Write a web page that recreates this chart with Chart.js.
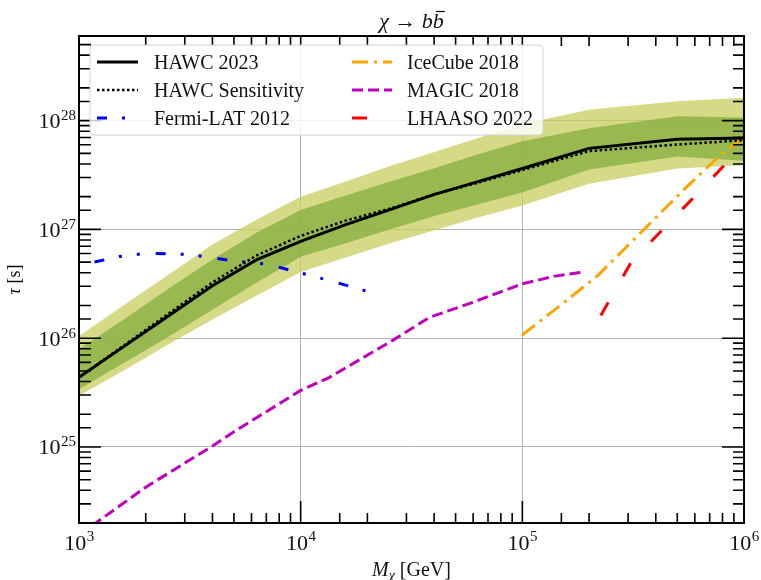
<!DOCTYPE html>
<html>
<head>
<meta charset="utf-8">
<script src="https://cdn.jsdelivr.net/npm/chart.js@4.4.1/dist/chart.umd.min.js"></script>
<style>
  html, body { margin: 0; padding: 0; background: #ffffff; }
  canvas { display: block; }
</style>
</head>
<body>
<canvas id="c" width="761" height="580"></canvas>
<script>
// ---------------- data ----------------
const hawcMass = [1000, 1585, 2512, 3981, 6310, 10000, 15850, 25120, 39810, 63100, 100000, 200000, 500000, 1000000];
const hawc2023 = [4.37e25, 8.32e25, 1.58e26, 3.02e26, 5.25e26, 7.76e26, 1.10e27, 1.51e27, 2.09e27, 2.75e27, 3.63e27, 5.56e27, 6.76e27, 6.92e27];
const hawcSensitivity = [4.37e25, 8.51e25, 1.66e26, 3.24e26, 5.75e26, 8.71e26, 1.20e27, 1.55e27, 2.09e27, 2.69e27, 3.51e27, 5.25e27, 6.03e27, 6.61e27];
const band2Upper = [1.05e26, 2.00e26, 3.80e26, 7.24e26, 1.23e27, 2.00e27, 2.75e27, 3.80e27, 5.13e27, 6.92e27, 9.33e27, 1.26e28, 1.51e28, 1.62e28];
const band1Upper = [7.94e25, 1.48e26, 2.82e26, 5.25e26, 9.33e26, 1.51e27, 2.04e27, 2.75e27, 3.63e27, 4.90e27, 6.46e27, 8.51e27, 1.10e28, 1.07e28];
const band1Lower = [3.39e25, 5.89e25, 1.02e26, 1.82e26, 3.24e26, 5.62e26, 7.41e26, 1.00e27, 1.32e27, 1.70e27, 2.19e27, 3.55e27, 4.68e27, 4.27e27];
const band2Lower = [2.95e25, 5.01e25, 8.71e25, 1.48e26, 2.45e26, 4.07e26, 5.50e26, 7.41e26, 9.77e26, 1.29e27, 1.66e27, 2.63e27, 3.63e27, 3.89e27];

const fermiMass = [1175, 1510, 2000, 3160, 5010, 7080, 10000, 14100, 20000];
const fermiTau = [5.01e26, 5.62e26, 6.03e26, 5.89e26, 5.13e26, 4.79e26, 3.98e26, 3.31e26, 2.69e26];

const magicMass = [1000, 2000, 4000, 5000, 10000, 13500, 26000, 38000, 58000, 100000, 140000, 190000];
const magicTau = [1.55e24, 4.27e24, 1.02e25, 1.38e25, 3.31e25, 4.37e25, 9.55e25, 1.55e26, 2.09e26, 3.16e26, 3.72e26, 4.07e26];

const icecubeMass = [100000, 150000, 220000, 350000, 550000, 770000, 1000000];
const icecubeTau = [1.07e26, 2.04e26, 3.80e26, 9.77e26, 2.45e27, 4.68e27, 7.08e27];

const lhaasoMass = [226000, 310000, 440000, 610000, 870000, 960000];
const lhaasoTau = [1.62e26, 5.01e26, 1.05e27, 2.09e27, 4.47e27, 5.25e27];

const xTickValues = [1e3, 1e4, 1e5, 1e6];
const xTickExponents = ['3', '4', '5', '6'];
const yTickValues = [1e25, 1e26, 1e27, 1e28];
const yTickExponents = ['25', '26', '27', '28'];

const xRange = [1e3, 1e6];
const yRange = [2e24, 6e28];

// ---------------- helpers ----------------
const pts = (xs, ys) => xs.map((v, i) => ({ x: v, y: ys[i] }));
const FONT = '"Liberation Serif", "DejaVu Serif", serif';
const isMajor = v => Math.abs(Math.log10(v) - Math.round(Math.log10(v))) < 1e-6;

function line(label, xs, ys, color, width, dash) {
  return {
    label, data: pts(xs, ys), borderColor: color, backgroundColor: color,
    borderWidth: width, borderDash: dash, borderCapStyle: 'butt',
    pointRadius: 0, tension: 0, fill: false, clip: 0
  };
}
function bandEdge(label, ys, fillColor, fill) {
  return {
    label, data: pts(hawcMass, ys), borderColor: 'rgba(0,0,0,0)', borderWidth: 0,
    backgroundColor: fillColor, pointRadius: 0, tension: 0, fill: fill, clip: 0
  };
}

const datasets = [
  line('HAWC 2023', hawcMass, hawc2023, '#000000', 3, []),
  line('HAWC Sensitivity', hawcMass, hawcSensitivity, '#000000', 2.5, [2.5, 2.5]),
  line('Fermi-LAT 2012', fermiMass, fermiTau, '#0000ff', 3, [10, 15, 3, 15, 3, 16]),
  line('IceCube 2018', icecubeMass, icecubeTau, '#ffa500', 3, [16, 6, 3, 6]),
  line('MAGIC 2018', magicMass, magicTau, '#bf00bf', 3, [11, 5]),
  line('LHAASO 2022', lhaasoMass, lhaasoTau, '#ff0000', 3, [15, 30]),
  bandEdge('HAWC 68% upper', band1Upper, 'rgba(129,174,62,0.75)', '+1'),
  bandEdge('HAWC 68% lower', band1Lower, 'rgba(0,0,0,0)', false),
  bandEdge('HAWC 95% upper', band2Upper, 'rgba(200,205,95,0.75)', '+1'),
  bandEdge('HAWC 95% lower', band2Lower, 'rgba(0,0,0,0)', false)
];

// ---------------- decorations plugin ----------------
const decor = {
  id: 'decor',
  afterDraw(chart) {
    const { ctx, chartArea: a, scales: { x, y } } = chart;
    ctx.save();

    // inward ticks on all four sides
    ctx.strokeStyle = '#000';
    ctx.lineWidth = 1.6;
    ctx.beginPath();
    x.ticks.forEach(t => {
      const px = x.getPixelForValue(t.value);
      if (px < a.left - 0.5 || px > a.right + 0.5) return;
      const maj = isMajor(t.value);
      ctx.moveTo(px, a.bottom); ctx.lineTo(px, a.bottom - (maj ? 22 : 10));
      ctx.moveTo(px, a.top); ctx.lineTo(px, a.top + 10);
    });
    y.ticks.forEach(t => {
      const py = y.getPixelForValue(t.value);
      if (py < a.top - 0.5 || py > a.bottom + 0.5) return;
      const maj = isMajor(t.value);
      ctx.moveTo(a.left, py); ctx.lineTo(a.left + (maj ? 22 : 12), py);
      ctx.moveTo(a.right, py); ctx.lineTo(a.right - (maj ? 22 : 11), py);
    });
    ctx.stroke();

    // frame
    ctx.lineWidth = 2;
    ctx.strokeRect(a.left, a.top, a.right - a.left, a.bottom - a.top);

    // tick labels
    ctx.fillStyle = '#111';
    ctx.textBaseline = 'alphabetic';
    ctx.textAlign = 'left';
    const big = `22px ${FONT}`, small = `15px ${FONT}`;
    xTickValues.forEach((v, i) => {
      const px = x.getPixelForValue(v);
      ctx.font = big; const w1 = ctx.measureText('10').width;
      ctx.font = small; const w2 = ctx.measureText(xTickExponents[i]).width;
      const left = px - (w1 + w2) / 2;
      ctx.font = big; ctx.fillText('10', left, 550);
      ctx.font = small; ctx.fillText(xTickExponents[i], left + w1 + 0.5, 541);
    });
    yTickValues.forEach((v, i) => {
      const py = y.getPixelForValue(v);
      ctx.font = big; const w1 = ctx.measureText('10').width;
      ctx.font = small; const w2 = ctx.measureText(yTickExponents[i]).width;
      const left = a.left - 3 - (w1 + w2 + 0.5);
      ctx.font = big; ctx.fillText('10', left, py + 7.5);
      ctx.font = small; ctx.fillText(yTickExponents[i], left + w1 + 0.5, py - 0.5);
    });

    // title  χ → b b̄
    const cx = (a.left + a.right) / 2;
    const it = `italic 22px ${FONT}`, rm = `22px ${FONT}`;
    const parts = [['χ', it], [' → ', rm], ['b', it], ['b', it]];
    let tw = 0;
    parts.forEach(p => { ctx.font = p[1]; p.push(ctx.measureText(p[0]).width); tw += p[2]; });
    let tx = cx - tw / 2;
    parts.forEach((p, k) => {
      ctx.font = p[1]; ctx.fillText(p[0], tx, 28);
      if (k === 3) {
        ctx.lineWidth = 1.2; ctx.beginPath();
        ctx.moveTo(tx + 3, 11.5); ctx.lineTo(tx + p[2] + 1, 11.5); ctx.stroke();
      }
      tx += p[2];
    });

    // x axis label  M_χ [GeV]
    const xl = [['M', `italic 20px ${FONT}`, 0], ['χ', `italic 14px ${FONT}`, 4], [' [GeV]', `20px ${FONT}`, 0]];
    let xw = 0;
    xl.forEach(p => { ctx.font = p[1]; p.push(ctx.measureText(p[0]).width); xw += p[3]; });
    let xx = cx - xw / 2;
    xl.forEach(p => { ctx.font = p[1]; ctx.fillText(p[0], xx, 576 + p[2]); xx += p[3]; });

    // y axis label  τ [s]
    ctx.save();
    ctx.translate(20, (a.top + a.bottom) / 2);
    ctx.rotate(-Math.PI / 2);
    const yl = [['τ', `italic 18px ${FONT}`], [' [s]', `18px ${FONT}`]];
    let yw = 0;
    yl.forEach(p => { ctx.font = p[1]; p.push(ctx.measureText(p[0]).width); yw += p[2]; });
    let yx = -yw / 2;
    yl.forEach(p => { ctx.font = p[1]; ctx.fillText(p[0], yx, 0); yx += p[2]; });
    ctx.restore();

    // legend
    const lx = 90, ly = 45, lw = 453, lh = 90, r = 4;
    ctx.beginPath();
    ctx.moveTo(lx + r, ly); ctx.lineTo(lx + lw - r, ly); ctx.quadraticCurveTo(lx + lw, ly, lx + lw, ly + r);
    ctx.lineTo(lx + lw, ly + lh - r); ctx.quadraticCurveTo(lx + lw, ly + lh, lx + lw - r, ly + lh);
    ctx.lineTo(lx + r, ly + lh); ctx.quadraticCurveTo(lx, ly + lh, lx, ly + lh - r);
    ctx.lineTo(lx, ly + r); ctx.quadraticCurveTo(lx, ly, lx + r, ly);
    ctx.closePath();
    ctx.fillStyle = 'rgba(255,255,255,0.8)';
    ctx.fill();
    ctx.strokeStyle = '#d2d2d2'; ctx.lineWidth = 1; ctx.stroke();

    const cols = [{ h0: 97, h1: 138, tx: 154, idx: [0, 1, 2] }, { h0: 352, h1: 392, tx: 407, idx: [3, 4, 5] }];
    const rows = [62, 90, 118];
    ctx.font = `20px ${FONT}`;
    cols.forEach(c => {
      c.idx.forEach((di, j) => {
        const ds = chart.data.datasets[di];
        const yy = rows[j];
        ctx.save();
        ctx.strokeStyle = ds.borderColor; ctx.lineWidth = ds.borderWidth;
        ctx.lineCap = 'butt'; ctx.setLineDash(ds.borderDash || []);
        ctx.beginPath(); ctx.moveTo(c.h0, yy); ctx.lineTo(c.h1, yy); ctx.stroke();
        ctx.restore();
        ctx.fillStyle = '#111';
        ctx.fillText(ds.label, c.tx, yy + 7);
      });
    });

    ctx.restore();
  }
};

const gridColor = c => (c.tick && isMajor(c.tick.value)) ? '#b4b4b4' : 'rgba(0,0,0,0)';

new Chart(document.getElementById('c'), {
  type: 'line',
  data: { datasets },
  options: {
    responsive: false,
    devicePixelRatio: 1,
    animation: false,
    events: [],
    layout: { padding: { left: 79, right: 17, top: 36, bottom: 57 } },
    plugins: { legend: { display: false }, tooltip: { enabled: false }, title: { display: false } },
    scales: {
      x: {
        type: 'logarithmic', min: xRange[0], max: xRange[1],
        ticks: { display: false },
        border: { display: false },
        grid: { drawTicks: false, color: gridColor, lineWidth: 1 }
      },
      y: {
        type: 'logarithmic', min: yRange[0], max: yRange[1],
        ticks: { display: false },
        border: { display: false },
        grid: { drawTicks: false, color: gridColor, lineWidth: 1 }
      }
    }
  },
  plugins: [decor]
});
</script>
</body>
</html>
